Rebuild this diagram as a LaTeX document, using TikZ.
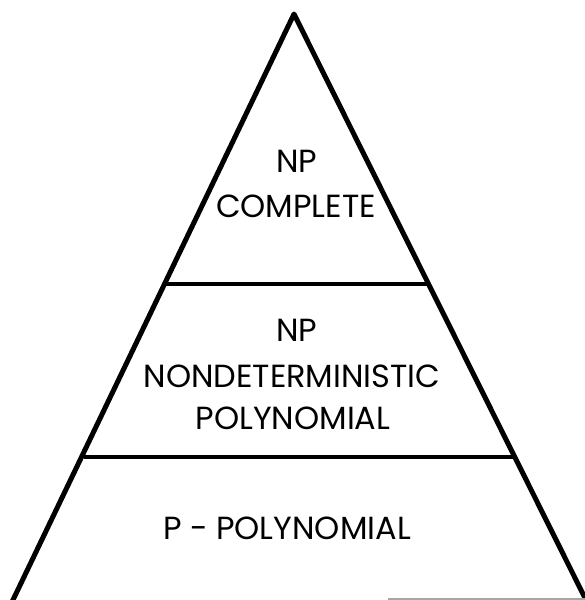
\documentclass[tikz,border=0pt]{standalone}
\usepackage{fontspec}
\setmainfont{Poppins}
\begin{document}
\begin{tikzpicture}[x=1pt,y=-1pt,
  side/.style={line width=5pt,line join=round,line cap=round},
  divider/.style={line width=3.6pt},
  label/.style={inner sep=0pt,font=\fontsize{32}{34}\selectfont}]
\useasboundingbox (0,0) rectangle (585,600);
\coordinate (apex) at (294,14);
\coordinate (bl) at (12,602);
\coordinate (br) at (587,602);
\coordinate (u1) at (166,284);
\coordinate (u2) at (428,284);
\coordinate (l1) at (84,457);
\coordinate (l2) at (514,457);
\coordinate (g1) at (388,599);
\coordinate (g2) at (585,599);
\draw[side] (bl) -- (apex) -- (br);
\draw[divider] (u1) -- (u2);
\draw[divider] (l1) -- (l2);
\draw[gray!70,line width=1.2pt] (g1) -- (g2);
\node[label] (np1) at (297,161) {NP};
\node[label] (comp) at (296,206) {COMPLETE};
\node[label] (np2) at (297,330) {NP};
\node[label] (nondet) at (292,376) {NONDETERMINISTIC};
\node[label] (poly) at (293,418) {POLYNOMIAL};
\node[label] (ppoly) at (287,528) {P - POLYNOMIAL};
\end{tikzpicture}
\end{document}
